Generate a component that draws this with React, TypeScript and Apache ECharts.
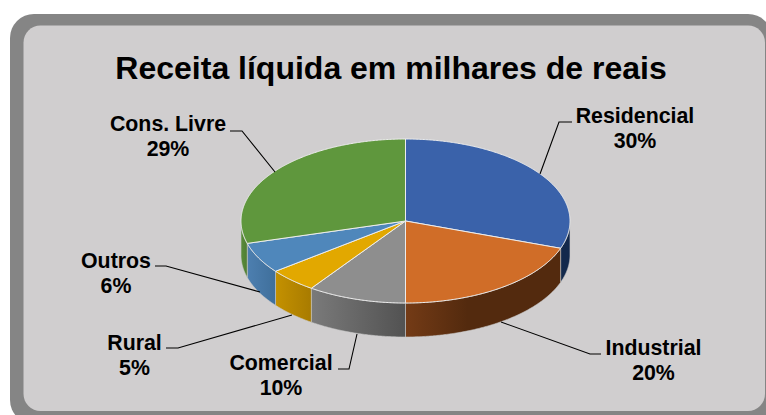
import React, { useEffect, useRef } from "react";
import * as echarts from "echarts";

const TITLE = "Receita líquida em milhares de reais";
const categories = ["Residencial", "Industrial", "Comercial", "Rural", "Outros", "Cons. Livre"];
const shares = [30.4, 19.6, 9.7, 4.8, 6.1, 29.4];

const FONT = '"Liberation Sans", Arial, sans-serif';
const topColors = ["#3a62aa", "#d06d28", "#8e8e8e", "#e2a800", "#4f87bb", "#5f973d"];
const sideColors = [
  ["#13294c", "#13294c"],
  ["#743b16", "#532a0e"],
  ["#7a7a7a", "#525252"],
  ["#c49100", "#a87b00"],
  ["#4d7fb0", "#3f6f9b"],
  ["#5a8c3a", "#4f7d32"],
];

// label centre (x, first-line y), leader-line points
const labelLayout = [
  { x: 635, y: 115.5, line: [[572, 122], [559, 122], [540, 174]] },
  { x: 653.5, y: 347.5, line: [[601, 354], [590, 354], [501, 322]] },
  { x: 281, y: 362.5, line: [[338, 369], [349, 369], [357, 334]] },
  { x: 134.5, y: 342.5, line: [[166, 348], [178, 348], [292, 315]] },
  { x: 116, y: 260.5, line: [[155, 266], [166, 266], [260, 292]] },
  { x: 168, y: 123.5, line: [[230, 131], [242, 131], [275, 172]] },
];

const CX = 405.5;
const CY = 221;
const RX = 164.5;
const RY = 82;
const DEPTH = 34;
const LINE_GAP = 25;

const total = shares.reduce((a, b) => a + b, 0);
const rim = (deg: number, dy = 0): number[] => {
  const t = (deg * Math.PI) / 180;
  return [CX + RX * Math.sin(t), CY - RY * Math.cos(t) + dy];
};
const arc = (a: number, b: number, dy = 0): number[][] => {
  const n = Math.max(2, Math.ceil(Math.abs(b - a) * 2));
  const out: number[][] = [];
  for (let i = 0; i <= n; i++) out.push(rim(a + ((b - a) * i) / n, dy));
  return out;
};

function renderSlice(params: any, api: any) {
  const i = params.dataIndex;
  const value = api.value(0);
  let before = 0;
  for (let k = 0; k < i; k++) before += shares[k];
  const a0 = (before / total) * 360;
  const a1 = a0 + (value / total) * 360;
  const children: any[] = [];

  // visible outer wall: front half of the ellipse only
  const s0 = Math.max(a0, 90);
  const s1 = Math.min(a1, 270);
  if (s1 > s0) {
    children.push({
      type: "polygon",
      z2: 1,
      shape: { points: [...arc(s0, s1), ...arc(s1, s0, DEPTH)] },
      style: {
        fill: new echarts.graphic.LinearGradient(0, 0, 1, 0, [
          { offset: 0, color: sideColors[i][0] },
          { offset: i === 1 ? 0.4 : 1, color: sideColors[i][1] },
          { offset: 1, color: sideColors[i][1] },
        ]),
        stroke: "#c9c9c9",
        lineWidth: 0.6,
      },
    });
  }

  // top face
  children.push({
    type: "polygon",
    z2: 2,
    shape: { points: [[CX, CY], ...arc(a0, a1)] },
    style: { fill: topColors[i], stroke: "#ececec", lineWidth: 1 },
  });

  // leader line
  const lay = labelLayout[i];
  children.push({
    type: "polyline",
    z2: 3,
    shape: { points: lay.line },
    style: { fill: "none", stroke: "#000000", lineWidth: 1.1 },
  });

  // data label: name and percentage
  const labelStyle = {
    fill: "#000000",
    font: `bold 21.33px ${FONT}`,
    textAlign: "center",
    textVerticalAlign: "middle",
  };
  children.push({
    type: "text",
    z2: 4,
    style: { ...labelStyle, x: lay.x, y: lay.y, text: categories[i] },
  });
  children.push({
    type: "text",
    z2: 4,
    style: {
      ...labelStyle,
      x: lay.x,
      y: lay.y + LINE_GAP,
      text: `${Math.round((value / total) * 100)}%`,
    },
  });

  return { type: "group", children };
}

export default function App() {
  const ref = useRef<HTMLDivElement>(null);
  useEffect(() => {
    document.body.style.margin = "0";
    const chart = echarts.init(ref.current!, null, { renderer: "svg" });
    chart.setOption({
      animation: false,
      backgroundColor: "#ffffff",
      title: {
        text: TITLE,
        left: 386,
        top: 47,
        textAlign: "center",
        textStyle: { fontFamily: FONT, fontSize: 32, fontWeight: "bold", color: "#000000" },
      },
      graphic: [
        {
          type: "rect",
          silent: true,
          z: -2,
          shape: { x: 10, y: 14, width: 762, height: 410, r: 24 },
          style: { fill: "#858585" },
        },
        {
          type: "rect",
          silent: true,
          z: -1,
          shape: { x: 23.5, y: 25.5, width: 741.5, height: 385.5, r: 17 },
          style: { fill: "#d0cecf" },
        },
      ],
      series: [
        {
          type: "custom",
          coordinateSystem: "none",
          data: shares.map((v) => [v]),
          renderItem: renderSlice,
          silent: true,
        },
      ],
    });
    return () => chart.dispose();
  }, []);
  return <div ref={ref} style={{ width: 766, height: 415, overflow: "hidden" }} />;
}
